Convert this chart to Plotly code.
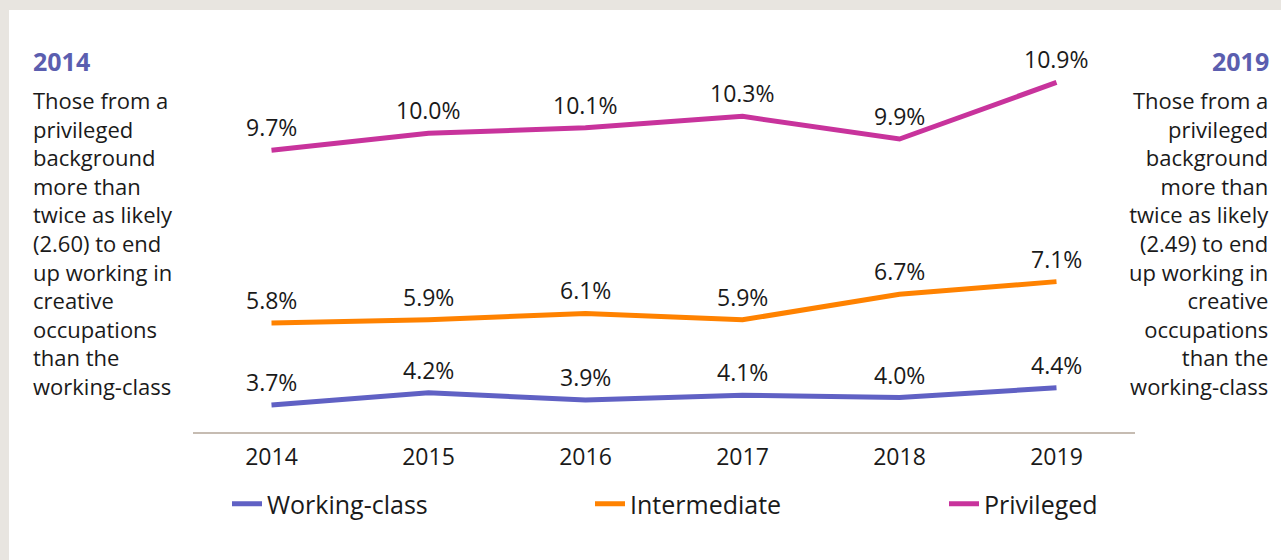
import plotly.graph_objects as go

years = [2014, 2015, 2016, 2017, 2018, 2019]
working_class = [3.7, 4.2, 3.9, 4.1, 4.0, 4.4]
intermediate = [5.8, 5.9, 6.1, 5.9, 6.7, 7.1]
privileged = [9.7, 10.0, 10.1, 10.3, 9.9, 10.9]
series_names = ["Working-class", "Intermediate", "Privileged"]
left_title = "2014"
right_title = "2019"
left_text = ["Those from a", "privileged", "background", "more than", "twice as likely",
             "(2.60) to end", "up working in", "creative", "occupations", "than the", "working-class"]
right_text = ["Those from a", "privileged", "background", "more than", "twice as likely",
              "(2.49) to end", "up working in", "creative", "occupations", "than the", "working-class"]

W, H = 1281, 560
L, R, T, B = 193, 146, 40, 128
PW, PH = W - L - R, H - T - B


def px(x):
    return (x - L) / PW


def py(y):
    return (H - B - y) / PH


FONT = "Open Sans"
TXT = "#1a1a1a"
colors = ["#6061c4", "#ff8200", "#c8339c"]
data = [working_class, intermediate, privileged]
axes = ["y", "y2", "y3"]
legends = ["legend", "legend2", "legend3"]
legend_x = [227, 590, 944]

fig = go.Figure()
for name, vals, col, ax, lg in zip(series_names, data, colors, axes, legends):
    fig.add_trace(go.Scatter(x=years, y=vals, name=name, mode="lines", yaxis=ax, legend=lg,
                             line=dict(color=col, width=5), hoverinfo="skip"))

annotations = []
for vals, ax in zip(data, axes):
    for yr, v in zip(years, vals):
        annotations.append(dict(x=yr, y=v, xref="x", yref=ax, text=f"{v:.1f}%",
                                showarrow=False, yshift=23, xanchor="center", yanchor="middle",
                                font=dict(family=FONT, size=23, color=TXT)))

TITLE_COLOR = "#5b5eaf"
annotations += [
    dict(x=px(31), y=py(61), xref="paper", yref="paper", text=f"<b>{left_title}</b>",
         showarrow=False, xanchor="left", yanchor="middle",
         font=dict(family=FONT, size=25, color=TITLE_COLOR)),
    dict(x=px(1271), y=py(61), xref="paper", yref="paper", text=f"<b>{right_title}</b>",
         showarrow=False, xanchor="right", yanchor="middle",
         font=dict(family=FONT, size=25, color=TITLE_COLOR)),
    dict(x=px(31), y=py(243), xref="paper", yref="paper", text="<br>".join(left_text),
         showarrow=False, xanchor="left", yanchor="middle", align="left",
         font=dict(family=FONT, size=22, color=TXT)),
    dict(x=px(1271), y=py(243), xref="paper", yref="paper", text="<br>".join(right_text),
         showarrow=False, xanchor="right", yanchor="middle", align="right",
         font=dict(family=FONT, size=22, color=TXT)),
]

shapes = [dict(type="rect", xref="paper", yref="paper", x0=px(9), x1=px(W + 5),
               y0=py(10), y1=py(H + 5), fillcolor="white", line=dict(width=0), layer="below")]

hidden = dict(visible=False, showgrid=False, zeroline=False, fixedrange=True)
legend_common = dict(orientation="h", yanchor="middle", xanchor="left", y=py(504),
                     font=dict(family=FONT, size=25, color=TXT), bgcolor="rgba(0,0,0,0)")
fig.update_layout(
    width=W, height=H,
    margin=dict(l=L, r=R, t=T, b=B, autoexpand=False),
    paper_bgcolor="#e8e5e0", plot_bgcolor="rgba(0,0,0,0)",
    font=dict(family=FONT, color=TXT),
    showlegend=True,
    legend=dict(x=px(legend_x[0]), **legend_common),
    legend2=dict(x=px(legend_x[1]), **legend_common),
    legend3=dict(x=px(legend_x[2]), **legend_common),
    xaxis=dict(range=[2013.5, 2019.5], showgrid=False, zeroline=False, showline=True,
               linecolor="#c6bcb2", linewidth=1.5, ticks="", tickmode="array", tickvals=years,
               ticktext=[str(y) for y in years], tickfont=dict(family=FONT, size=23, color=TXT),
               ticklabelstandoff=4),
    yaxis=dict(range=[2.59, 18.65], **hidden),
    yaxis2=dict(range=[2.37, 14.70], overlaying="y", **hidden),
    yaxis3=dict(range=[4.72, 11.65], overlaying="y", **hidden),
    annotations=annotations,
    shapes=shapes,
    hovermode=False,
)

fig.write_html("out.html", config={"displayModeBar": False},
               post_script="document.body.style.margin='0';document.body.style.padding='0';")
